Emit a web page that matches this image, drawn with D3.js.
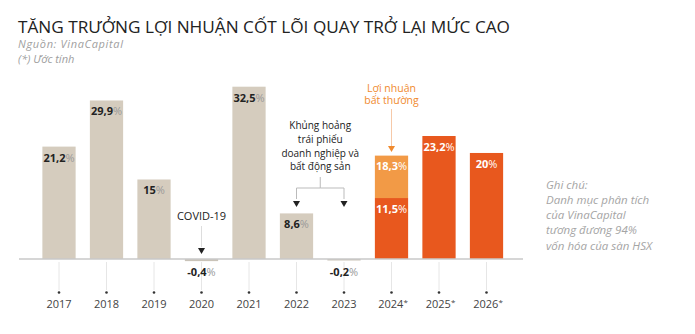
<!DOCTYPE html>
<html><head><meta charset="utf-8">
<script src="https://cdn.jsdelivr.net/npm/d3@7"></script>
<style>
body{margin:0;background:#fff;}
svg{display:block;font-family:"Open Sans",sans-serif;}
</style></head>
<body><svg id="c" width="695" height="334"></svg>
<script>
const years = ["2017","2018","2019","2020","2021","2022","2023","2024*","2025*","2026*"];
const coreValues = [21.2, 29.9, 15, -0.4, 32.5, 8.6, -0.2, 11.5, 23.2, 20];
const extraValues = [0, 0, 0, 0, 0, 0, 0, 8.0, 0, 0];
const coreLabels = ["21,2","29,9","15","-0,4","32,5","8,6","-0,2","11,5","23,2","20"];
const extraLabels = ["","","","","","","","18,3","",""];
const estimated = [false,false,false,false,false,false,false,true,true,true];

const svg = d3.select("#c");
const beige = "#d5ccbe", orange = "#e8581e", lightOrange = "#f29a46";

const x = d3.scaleBand().domain(years).range([35.25, 510.25]).paddingInner(0.3).paddingOuter(0.15);
const y = d3.scaleLinear().domain([0, 32.5]).range([259, 86.7]);

// Title
svg.append("text").attr("x",18).attr("y",32.5).attr("font-size",17).attr("fill","#222")
  .attr("textLength",492).attr("lengthAdjust","spacingAndGlyphs")
  .text("TĂNG TRƯỞNG LỢI NHUẬN CỐT LÕI QUAY TRỞ LẠI MỨC CAO");
svg.append("text").attr("x",18).attr("y",48).attr("font-size",11).attr("font-style","italic").attr("fill","#a0a0a0")
  .attr("textLength",105).text("Nguồn: VinaCapital");
svg.append("text").attr("x",18).attr("y",62.5).attr("font-size",11).attr("font-style","italic").attr("fill","#a0a0a0").text("(*) Ước tính");

// vertical guide lines + dots + year labels
years.forEach((yr,i)=>{
  const cx = x(yr)+x.bandwidth()/2;
  svg.append("line").attr("x1",cx).attr("x2",cx).attr("y1",262).attr("y2",290).attr("stroke","#e6e6e6").attr("stroke-width",1);
  svg.append("circle").attr("cx",cx).attr("cy",292.5).attr("r",1.3).attr("fill","#333");
  const t = svg.append("text").attr("x",cx+(estimated[i]?1.5:0)).attr("y",308).attr("text-anchor","middle").attr("font-size",11).attr("fill","#444");
  t.append("tspan").text(yr.replace("*",""));
  if (estimated[i]) t.append("tspan").attr("font-size",8).attr("dy",-3).text("*");
});

// bars
years.forEach((yr,i)=>{
  const v = coreValues[i];
  const col = estimated[i] ? orange : beige;
  svg.append("rect").attr("x",x(yr)).attr("width",x.bandwidth())
    .attr("y", v>=0 ? y(v) : y(0)).attr("height", Math.max(Math.abs(y(v)-y(0)), v<0?1.5:0))
    .attr("fill", v<0 ? "#c9c3b8" : col);
  if (extraValues[i] > 0) {
    svg.append("rect").attr("x",x(yr)).attr("width",x.bandwidth())
      .attr("y", y(v+extraValues[i])).attr("height", y(v)-y(v+extraValues[i])).attr("fill", lightOrange);
  }
});

// baseline
svg.append("line").attr("x1",19).attr("x2",523).attr("y1",y(0)).attr("y2",y(0)).attr("stroke","#c8c8c8").attr("stroke-width",1.5);

function valueLabel(cx, yy, num, white){
  const t = svg.append("text").attr("x",cx).attr("y",yy).attr("text-anchor","middle").attr("font-size",11);
  t.append("tspan").attr("font-weight",700).attr("fill", white?"#fff":"#222").text(num);
  t.append("tspan").attr("fill", white?"#fff":"#999").text("%");
}
years.forEach((yr,i)=>{
  const cx = x(yr)+x.bandwidth()/2;
  const v = coreValues[i];
  if (v < 0) {
    valueLabel(cx, y(0)+17, coreLabels[i], false);
  } else if (extraValues[i] > 0) {
    valueLabel(cx, y(v)+15, coreLabels[i], true);
    valueLabel(cx, y(v+extraValues[i])+14, extraLabels[i], true);
  } else {
    valueLabel(cx, y(v)+15, coreLabels[i], estimated[i]);
  }
});

function arrow(cx, ty){
  svg.append("path").attr("d",`M${cx-3.5},${ty-5}L${cx+3.5},${ty-5}L${cx},${ty+1}Z`).attr("fill","#222");
}
// COVID annotation
const c20 = x("2020")+x.bandwidth()/2;
svg.append("text").attr("x",c20).attr("y",220).attr("text-anchor","middle").attr("font-size",11).attr("fill","#222").text("COVID-19");
svg.append("line").attr("x1",c20).attr("x2",c20).attr("y1",226).attr("y2",247).attr("stroke","#ddd");
arrow(c20, 253);

// Crisis annotation
const c22 = x("2022")+x.bandwidth()/2, c23 = x("2023")+x.bandwidth()/2, cm = (c22+c23)/2;
["Khủng hoảng","trái phiếu","doanh nghiệp và","bất động sản"].forEach((s,k)=>{
  svg.append("text").attr("x",cm).attr("y",129+k*13.8).attr("text-anchor","middle").attr("font-size",10).attr("fill","#222").text(s);
});
svg.append("path").attr("d",`M${cm},177V188H${c22}V199M${cm},188H${c23}V199`).attr("fill","none").attr("stroke","#bbb").attr("stroke-width",1);
arrow(c22, 206); arrow(c23, 206);

// Extraordinary profit annotation
const c24 = x("2024*")+x.bandwidth()/2;
svg.append("text").attr("x",c24).attr("y",91.5).attr("text-anchor","middle").attr("font-size",10.5).attr("fill","#f08a2e").text("Lợi nhuận");
svg.append("text").attr("x",c24).attr("y",104).attr("text-anchor","middle").attr("font-size",10.5).attr("fill","#f08a2e").text("bất thường");
svg.append("line").attr("x1",c24).attr("x2",c24).attr("y1",109).attr("y2",146).attr("stroke","#f6c9a8");
svg.append("path").attr("d",`M${c24-3.5},${146}L${c24+3.5},${146}L${c24},${152}Z`).attr("fill","#f08a2e");

// Note
["Ghi chú:","Danh mục phân tích","của VinaCapital","tương đương 94%","vốn hóa của sàn HSX"].forEach((s,k)=>{
  svg.append("text").attr("x",546).attr("y",188.5+k*15.3).attr("font-size",11.5).attr("font-style","italic").attr("fill","#a5a5a5").text(s);
});
</script></body></html>
